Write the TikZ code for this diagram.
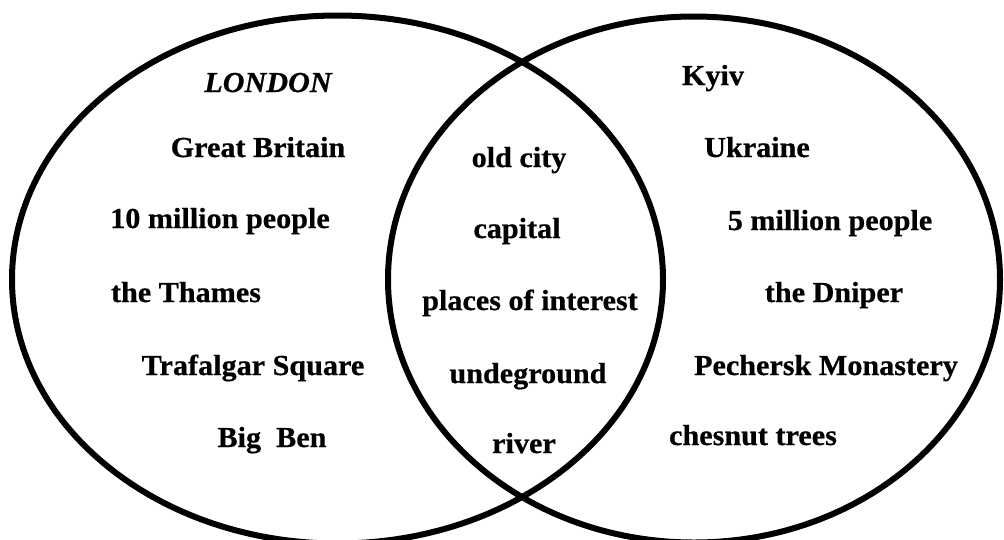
\documentclass[tikz,border=0pt]{standalone}
\usepackage{fontspec}
\setmainfont{Liberation Serif}[FakeStretch=1.04,FakeBold=0.6]
\begin{document}
\begin{tikzpicture}[x=1pt,y=-1pt,
  ring/.style={line width=6pt,black},
  lbl/.style={anchor=base,inner sep=0pt,font=\fontsize{29}{32}\selectfont\bfseries}]
\useasboundingbox (0,0) rectangle (1004,539);
\draw[ring] (337.5,279.5) ellipse [x radius=325.5pt, y radius=264pt];
\draw[ring] (694,279.5) ellipse [x radius=306pt, y radius=263pt];
% London
\node[lbl,font=\fontsize{29}{32}\selectfont\bfseries\itshape] (london) at (268,92) {LONDON};
\node[lbl] (gb) at (258,157) {Great Britain};
\node[lbl] (lpop) at (220,228) {10 million people};
\node[lbl] (thames) at (186,302) {the Thames};
\node[lbl] (trafalgar) at (253,375) {Trafalgar Square};
\node[lbl] (bigben) at (272,447) {Big\ \ Ben};
% common
\node[lbl] (old) at (519,167) {old city};
\node[lbl] (capital) at (517,238) {capital};
\node[lbl] (places) at (530,310) {places of interest};
\node[lbl] (under) at (528,383) {undeground};
\node[lbl] (river) at (524,453) {river};
% Kyiv
\node[lbl] (kyiv) at (713,85) {Kyiv};
\node[lbl] (ukraine) at (757,157) {Ukraine};
\node[lbl] (kpop) at (830,230) {5 million people};
\node[lbl] (dniper) at (834,302) {the Dniper};
\node[lbl] (pechersk) at (826,375) {Pechersk Monastery};
\node[lbl] (chesnut) at (753,445) {chesnut trees};
\end{tikzpicture}
\end{document}
